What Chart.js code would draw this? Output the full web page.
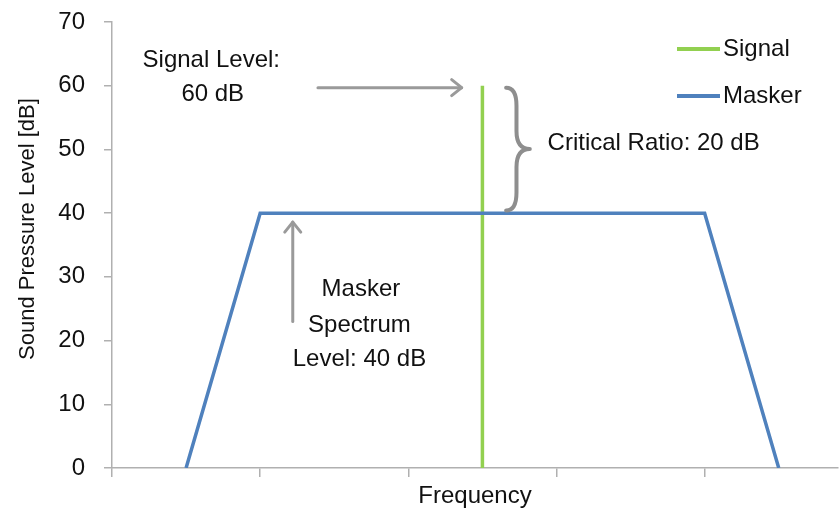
<!DOCTYPE html>
<html>
<head>
<meta charset="utf-8">
<script src="https://cdn.jsdelivr.net/npm/chart.js@4"></script>
<style>
  html, body { margin: 0; padding: 0; background: #fff; }
  #wrap { width: 840px; height: 513px; }
</style>
</head>
<body>
<div id="wrap"><canvas id="chart" width="840" height="513"></canvas></div>
<script>
// Data (x in arbitrary frequency units, one unit per tick)
const signalX = [2.5, 2.5];
const signalY = [0, 60];
const maskerX = [0.5, 1, 4, 4.5];
const maskerY = [0, 40, 40, 0];
const yTicks = [0, 10, 20, 30, 40, 50, 60, 70];
const xTicks = [0, 1, 2, 3, 4];

const FONT = "'Liberation Sans', Arial, sans-serif";
const TEXT = '#111';
const ARROW = '#9a9a9a';

function toPoints(xs, ys) {
    return xs.map((x, i) => ({ x: x, y: ys[i] }));
}

function arrowHead(ctx, x, y, dir) {
    // open chevron pointing in dir ('right' or 'up')
    const s = 10;
    ctx.beginPath();
    if (dir === 'right') {
        ctx.moveTo(x - s, y - s * 0.8);
        ctx.lineTo(x, y);
        ctx.lineTo(x - s, y + s * 0.8);
    } else {
        ctx.moveTo(x - s * 0.8, y + s);
        ctx.lineTo(x, y);
        ctx.lineTo(x + s * 0.8, y + s);
    }
    ctx.stroke();
}

const annotations = {
    id: 'annotations',
    afterDatasetsDraw(chart) {
        const ctx = chart.ctx;
        const xs = chart.scales.x, ys = chart.scales.y;
        const px = v => xs.getPixelForValue(v);
        const py = v => ys.getPixelForValue(v);

        ctx.save();
        ctx.lineCap = 'round';
        ctx.lineJoin = 'round';

        // signal level arrow
        ctx.strokeStyle = ARROW;
        ctx.lineWidth = 3;
        ctx.beginPath();
        ctx.moveTo(px(1.39), py(59.7));
        ctx.lineTo(px(2.36), py(59.7));
        ctx.stroke();
        arrowHead(ctx, px(2.36), py(59.7), 'right');

        // masker level arrow
        ctx.beginPath();
        ctx.moveTo(px(1.22), py(23));
        ctx.lineTo(px(1.22), py(38.6));
        ctx.stroke();
        arrowHead(ctx, px(1.22), py(38.6), 'up');

        // brace for critical ratio
        const x0 = px(2.66), xm = px(2.73), xt = px(2.82);
        const yT = py(59.7), yB = py(40.4), yM = (yT + yB) / 2;
        const q = 18;
        ctx.strokeStyle = '#8e8e8e';
        ctx.lineWidth = 4;
        ctx.beginPath();
        ctx.moveTo(x0, yT);
        ctx.quadraticCurveTo(xm, yT, xm, yT + q);
        ctx.lineTo(xm, yM - q);
        ctx.quadraticCurveTo(xm, yM, xt, yM);
        ctx.quadraticCurveTo(xm, yM, xm, yM + q);
        ctx.lineTo(xm, yB - q);
        ctx.quadraticCurveTo(xm, yB, x0, yB);
        ctx.stroke();

        // texts
        ctx.fillStyle = TEXT;
        ctx.font = '24px ' + FONT;
        ctx.textBaseline = 'middle';
        ctx.textAlign = 'center';
        ctx.fillText('Signal Level:', px(0.67), py(63.9));
        ctx.fillText('60 dB', px(0.68), py(58.6));
        ctx.fillText('Masker', px(1.68), py(28.0));
        ctx.fillText('Spectrum', px(1.67), py(22.4));
        ctx.fillText('Level: 40 dB', px(1.67), py(17.1));
        ctx.textAlign = 'left';
        ctx.fillText('Critical Ratio: 20 dB', px(2.94), py(51.0));

        // y axis title, sits a little above the axis middle
        ctx.save();
        ctx.translate(28, py(37.5));
        ctx.rotate(-Math.PI / 2);
        ctx.textAlign = 'center';
        ctx.font = '22px ' + FONT;
        ctx.fillText('Sound Pressure Level [dB]', 0, 0);
        ctx.restore();

        // legend
        const lx = chart.chartArea.right - 161;
        chart.data.datasets.forEach((ds, i) => {
            const ly = chart.chartArea.top + 27 + i * 47;
            ctx.strokeStyle = ds.borderColor;
            ctx.lineWidth = 4;
            ctx.lineCap = 'butt';
            ctx.beginPath();
            ctx.moveTo(lx, ly);
            ctx.lineTo(lx + 43, ly);
            ctx.stroke();
            ctx.fillStyle = TEXT;
            ctx.fillText(ds.label, lx + 46, ly);
        });
        ctx.restore();
    }
};

const ctx = document.getElementById('chart');
new Chart(ctx, {
    type: 'scatter',
    data: {
        datasets: [
            {
                label: 'Signal',
                data: toPoints(signalX, signalY),
                showLine: true,
                borderColor: '#92D050',
                backgroundColor: '#92D050',
                borderWidth: 3.5,
                pointRadius: 0,
                order: 1
            },
            {
                label: 'Masker',
                data: toPoints(maskerX, maskerY),
                showLine: true,
                borderColor: '#4F81BD',
                backgroundColor: '#4F81BD',
                borderWidth: 3.5,
                pointRadius: 0,
                order: 0
            }
        ]
    },
    options: {
        responsive: false,
        animation: false,
        devicePixelRatio: 1,
        layout: { padding: { top: 22, right: 2, left: 0, bottom: 0 } },
        plugins: {
            legend: { display: false },
            tooltip: { enabled: false }
        },
        scales: {
            x: {
                type: 'linear',
                min: 0,
                max: 4.9,
                afterBuildTicks: s => { s.ticks = xTicks.map(v => ({ value: v })); },
                afterFit: s => { s.height = 45; s.paddingLeft = 0; s.paddingRight = 0; },
                ticks: { display: false },
                border: { color: '#b0b0b0', width: 1.5 },
                grid: { drawOnChartArea: false, drawTicks: true, tickLength: 9, color: '#b0b0b0', lineWidth: 1.5 },
                title: {
                    display: true,
                    text: 'Frequency',
                    color: TEXT,
                    font: { family: FONT, size: 24 },
                    padding: { top: 0, bottom: 2 }
                }
            },
            y: {
                min: 0,
                max: 70,
                afterBuildTicks: s => { s.ticks = yTicks.map(v => ({ value: v })); },
                afterFit: s => { s.width = 112; s.paddingTop = 0; s.paddingBottom = 0; },
                ticks: {
                    color: TEXT,
                    padding: 19,
                    font: { family: FONT, size: 24 }
                },
                border: { color: '#b0b0b0', width: 1.5 },
                grid: { drawOnChartArea: false, drawTicks: true, tickLength: 8, color: '#b0b0b0', lineWidth: 1.5 }
            }
        }
    },
    plugins: [annotations]
});
</script>
</body>
</html>
